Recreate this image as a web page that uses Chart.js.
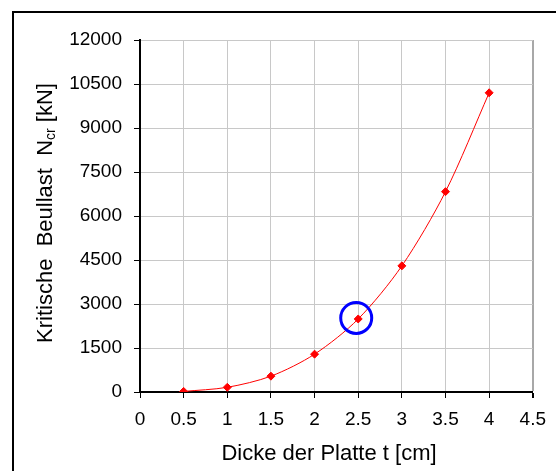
<!DOCTYPE html>
<html>
<head>
<meta charset="utf-8">
<script src="https://cdn.jsdelivr.net/npm/chart.js@4.4.0/dist/chart.umd.min.js"></script>
<style>
  body { margin: 0; background: #fff; }
  canvas { display: block; }
</style>
</head>
<body>
<canvas id="beulChart" width="556" height="471"></canvas>
<script>
// plate thickness t [cm] and critical buckling load Ncr [kN]
const thickness = [0.5, 1, 1.5, 2, 2.5, 3, 3.5, 4];
const criticalLoad = [20, 160, 540, 1290, 2490, 4300, 6830, 10200];

const xTickValues = [0, 0.5, 1, 1.5, 2, 2.5, 3, 3.5, 4, 4.5];
const yTickValues = [0, 1500, 3000, 4500, 6000, 7500, 9000, 10500, 12000];

// point that gets the blue ring
const markedIndex = 4;

const FONT = '"Liberation Sans", Arial, sans-serif';

// frame, axis titles (with subscript) and the highlight ring
const decorations = {
  id: 'decorations',
  beforeDraw(chart) {
    const c = chart.ctx;
    c.save();
    c.fillStyle = '#000';
    c.fillRect(12, 11, 2, chart.height - 11);
    c.fillRect(12, 11, chart.width - 12, 2);
    c.restore();
  },
  afterDatasetsDraw(chart) {
    const pt = chart.getDatasetMeta(0).data[markedIndex];
    const c = chart.ctx;
    c.save();
    c.strokeStyle = '#0000ff';
    c.lineWidth = 3;
    c.beginPath();
    c.arc(pt.x - 2, pt.y - 1, 15.5, 0, Math.PI * 2);
    c.stroke();
    c.restore();
  },
  afterDraw(chart) {
    const c = chart.ctx;
    c.save();
    c.fillStyle = '#000';

    // x axis title
    c.font = '22px ' + FONT;
    c.textAlign = 'center';
    c.textBaseline = 'alphabetic';
    c.fillText('Dicke der Platte t [cm]', 329, 460);

    // y axis title, rotated, with "cr" subscript
    const big = '22px ' + FONT, small = '14px ' + FONT;
    const parts = [
      { t: 'Kritische  Beullast  N', f: big, dy: 0 },
      { t: 'cr', f: small, dy: 3 },
      { t: ' [kN]', f: big, dy: 0 }
    ];
    let total = 0;
    parts.forEach(p => { c.font = p.f; p.w = c.measureText(p.t).width; total += p.w; });
    c.translate(52, 213);
    c.rotate(-Math.PI / 2);
    c.textAlign = 'left';
    let x = -total / 2;
    parts.forEach(p => {
      c.font = p.f;
      c.fillText(p.t, x, p.dy);
      x += p.w;
    });
    c.restore();
  }
};

const ctx = document.getElementById('beulChart').getContext('2d');
const beulChart = new Chart(ctx, {
  type: 'line',
  data: {
    datasets: [{
      data: thickness.map((t, i) => ({ x: t, y: criticalLoad[i] })),
      borderColor: '#ff0000',
      borderWidth: 1,
      backgroundColor: '#ff0000',
      pointStyle: 'rectRot',
      pointRadius: 4,
      pointBorderWidth: 1,
      pointBackgroundColor: '#ff0000',
      pointBorderColor: '#ff0000',
      tension: 0.3,
      fill: false
    }]
  },
  options: {
    responsive: false,
    animation: false,
    layout: { padding: { left: 0, top: 40, right: 16, bottom: 0 } },
    plugins: {
      legend: { display: false },
      tooltip: { enabled: false }
    },
    scales: {
      x: {
        type: 'linear',
        min: 0,
        max: 4.5,
        afterBuildTicks: s => { s.ticks = xTickValues.map(v => ({ value: v })); },
        afterFit: s => { s.height = 79; },
        ticks: {
          color: '#000',
          font: { family: FONT, size: 19 },
          padding: 10,
          maxRotation: 0,
          autoSkip: false,
          callback: v => String(v)
        },
        grid: {
          color: c => c.index === xTickValues.length - 1 ? '#a8a8a8' : '#c8c8c8',
          lineWidth: c => c.index === xTickValues.length - 1 ? 2 : 1,
          tickColor: '#000',
          tickLength: 6
        },
        border: { color: '#000', width: 2 }
      },
      y: {
        min: 0,
        max: 12000,
        afterBuildTicks: s => { s.ticks = yTickValues.map(v => ({ value: v })); },
        afterFit: s => { s.width = 140; },
        ticks: {
          color: '#000',
          font: { family: FONT, size: 19 },
          padding: 12,
          autoSkip: false,
          callback: v => String(v)
        },
        grid: {
          color: '#c8c8c8',
          lineWidth: 1,
          tickColor: '#000',
          tickLength: 6
        },
        border: { color: '#000', width: 2 }
      }
    }
  },
  plugins: [decorations]
});
</script>
</body>
</html>
